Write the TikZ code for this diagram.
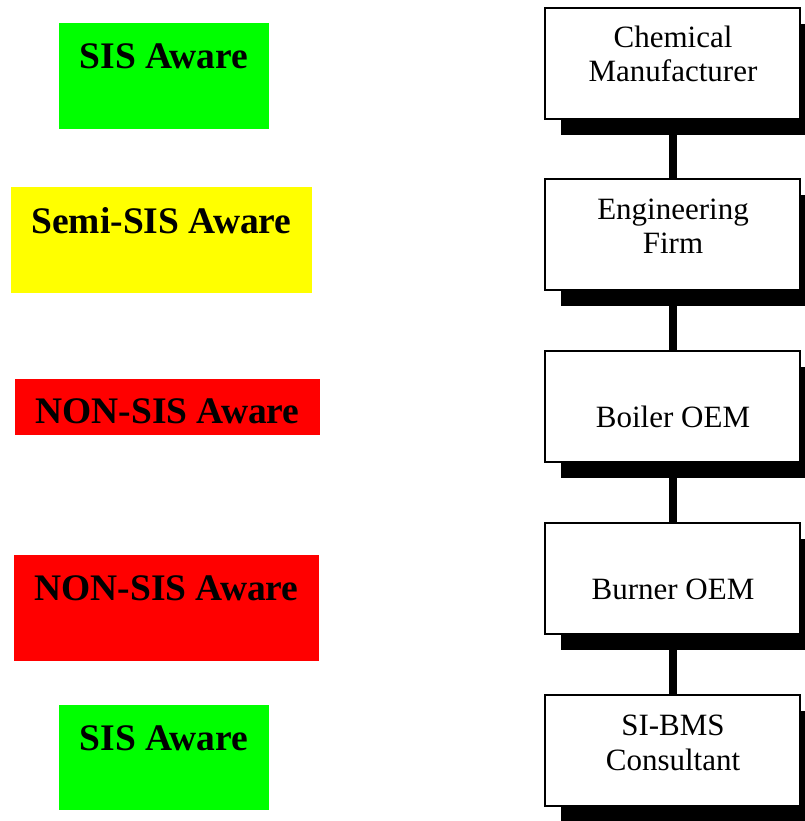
\documentclass[tikz,border=0pt]{standalone}
\usepackage{fontspec}
\setmainfont{Liberation Serif}
\usetikzlibrary{backgrounds}
\definecolor{sisgreen}{RGB}{0,255,0}
\definecolor{sisyellow}{RGB}{255,255,0}
\definecolor{sisred}{RGB}{255,0,0}
\begin{document}
\begin{tikzpicture}[x=1pt,y=-1pt,
  lbox/.style={rectangle,inner sep=0pt,outer sep=0pt,draw=none},
  ltext/.style={anchor=base,inner sep=0pt,font=\bfseries\fontsize{37.5}{40}\selectfont},
  rbox/.style={rectangle,inner sep=0pt,outer sep=0pt,draw=black,line width=1.2pt,fill=white,
    minimum width=255pt,minimum height=111pt},
  rtext/.style={anchor=base,inner sep=0pt,font=\fontsize{31}{34}\selectfont},
  shadowbox/.style={fill=black},
  link/.style={line width=8pt,draw=black}]
\useasboundingbox (0,0) rectangle (804,821);
% left labels
\node[lbox,fill=sisgreen,minimum width=210pt,minimum height=106pt] (l1) at (164,76) {};
\node[ltext] (lt1) at (164,69) {SIS Aware};
\node[lbox,fill=sisyellow,minimum width=301pt,minimum height=106pt] (l2) at (161.5,240) {};
\node[ltext] (lt2) at (161.5,233) {Semi-SIS Aware};
\node[lbox,fill=sisred,minimum width=305pt,minimum height=56pt] (l3) at (167.5,407) {};
\node[ltext] (lt3) at (167.5,423) {NON-SIS Aware};
\node[lbox,fill=sisred,minimum width=305pt,minimum height=106pt] (l4) at (166.5,608) {};
\node[ltext] (lt4) at (166.5,600) {NON-SIS Aware};
\node[lbox,fill=sisgreen,minimum width=210pt,minimum height=105pt] (l5) at (164,757.5) {};
\node[ltext] (lt5) at (164,750) {SIS Aware};
% right chain
\foreach \i/\t in {1/8,2/179,3/351,4/523,5/695}{
  \fill[shadowbox] (561,\t+16) rectangle (816,\t+127);
}
\node[rbox] (r1) at (672.5,63.5) {};
\node[rbox] (r2) at (672.5,234.5) {};
\node[rbox] (r3) at (672.5,406.5) {};
\node[rbox] (r4) at (672.5,578.5) {};
\node[rbox] (r5) at (672.5,750.5) {};
\node[rtext] (rt1a) at (673,48) {Chemical};
\node[rtext] (rt1b) at (673,82) {Manufacturer};
\node[rtext] (rt2a) at (673,219) {Engineering};
\node[rtext] (rt2b) at (673,253) {Firm};
\node[rtext] (rt3) at (673,427) {Boiler OEM};
\node[rtext] (rt4) at (673,599) {Burner OEM};
\node[rtext] (rt5a) at (673,735) {SI-BMS};
\node[rtext] (rt5b) at (673,770) {Consultant};
\begin{scope}[on background layer]
\fill[white] (0,0) rectangle (804,821);
\draw[link] (r1.south) -- (r2.north);
\draw[link] (r2.south) -- (r3.north);
\draw[link] (r3.south) -- (r4.north);
\draw[link] (r4.south) -- (r5.north);
\end{scope}
\end{tikzpicture}
\end{document}
